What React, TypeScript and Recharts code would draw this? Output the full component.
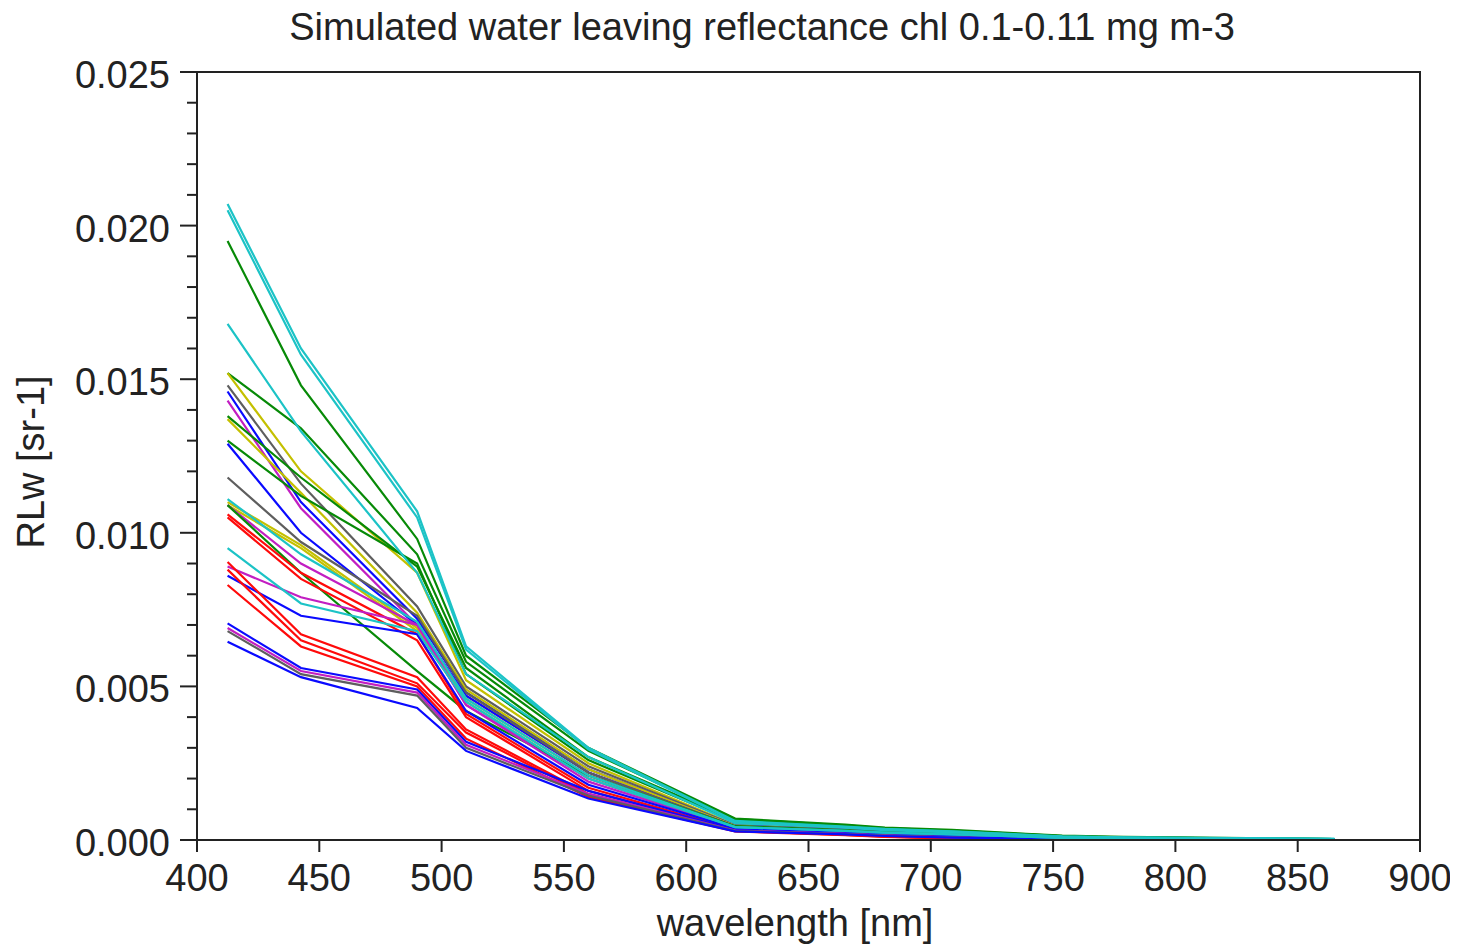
import React from "react";
import { LineChart, Line, XAxis, YAxis, ReferenceArea } from "recharts";

// --- Data ---

const WAVELENGTHS = [412.5, 442.5, 490, 510, 560, 620, 665, 681.25, 708.75, 753.75, 778.75, 865];

const X_TICKS = [400, 450, 500, 550, 600, 650, 700, 750, 800, 850, 900];

const Y_TICKS = [
  0, 0.001, 0.002, 0.003, 0.004, 0.005, 0.006, 0.007, 0.008, 0.009, 0.01, 0.011, 0.012,
  0.013, 0.014, 0.015, 0.016, 0.017, 0.018, 0.019, 0.02, 0.021, 0.022, 0.023, 0.024, 0.025,
];

const CYAN = "#1cc3c6";
const GREEN = "#078a07";
const YELLOW = "#c4c000";
const GRAY = "#5e5e5e";
const BLUE = "#0a0aff";
const MAGENTA = "#c21ec2";
const RED = "#ff0a0a";

const LINE_COLORS = [
  CYAN, CYAN, GREEN, CYAN, GREEN, YELLOW, GRAY, BLUE, MAGENTA, GREEN, YELLOW, GREEN, BLUE,
  GRAY, CYAN, YELLOW, YELLOW, MAGENTA, GREEN, RED, RED, CYAN, MAGENTA, BLUE, RED, RED, RED,
  BLUE, MAGENTA, GRAY, BLUE,
];

// one row per simulated spectrum, values at WAVELENGTHS (sr-1)
const RLW = [
  [0.0207, 0.0160, 0.0107, 0.0063, 0.0030, 0.00062, 0.00044, 0.00036, 0.00028, 0.00012, 0.00009, 0.00004],
  [0.0205, 0.0158, 0.0105, 0.0062, 0.00295, 0.00060, 0.00042, 0.00035, 0.00027, 0.00011, 0.00008, 0.000035],
  [0.0195, 0.0148, 0.0098, 0.0060, 0.0030, 0.00070, 0.00050, 0.00040, 0.00033, 0.00014, 0.00010, 0.00003],
  [0.0168, 0.0133, 0.0087, 0.0054, 0.0027, 0.00055, 0.00040, 0.00032, 0.00025, 0.00010, 0.00007, 0.00003],
  [0.0152, 0.0134, 0.0093, 0.0058, 0.0029, 0.00068, 0.00048, 0.00039, 0.00031, 0.00013, 0.00009, 0.00003],
  [0.0152, 0.0120, 0.0087, 0.0052, 0.0025, 0.00050, 0.00035, 0.00028, 0.00020, 0.00008, 0.00006, 0.00002],
  [0.0148, 0.0116, 0.0076, 0.0050, 0.0024, 0.00048, 0.00033, 0.00026, 0.00019, 0.00008, 0.00005, 0.00002],
  [0.0146, 0.0110, 0.0072, 0.0048, 0.0023, 0.00047, 0.00034, 0.00027, 0.00019, 0.00008, 0.00005, 0.00002],
  [0.0143, 0.0108, 0.0070, 0.0047, 0.0022, 0.00044, 0.00031, 0.00025, 0.00018, 0.00007, 0.00005, 0.00002],
  [0.0138, 0.0118, 0.0089, 0.0056, 0.0027, 0.00064, 0.00046, 0.00037, 0.00029, 0.00012, 0.00008, 0.00003],
  [0.0137, 0.0113, 0.0074, 0.0049, 0.0023, 0.00046, 0.00032, 0.00025, 0.00018, 0.00007, 0.00005, 0.00002],
  [0.0130, 0.0112, 0.0090, 0.0054, 0.0026, 0.00060, 0.00043, 0.00035, 0.00027, 0.00011, 0.00008, 0.00003],
  [0.0129, 0.0100, 0.0070, 0.0047, 0.0022, 0.00044, 0.00031, 0.00024, 0.00017, 0.00007, 0.00005, 0.00002],
  [0.0118, 0.0097, 0.0073, 0.0048, 0.0022, 0.00044, 0.00030, 0.00024, 0.00017, 0.00007, 0.00005, 0.00002],
  [0.0111, 0.0093, 0.0071, 0.0046, 0.0021, 0.00042, 0.00030, 0.00024, 0.00018, 0.00007, 0.00005, 0.00002],
  [0.0110, 0.0096, 0.0069, 0.0046, 0.0021, 0.00043, 0.00030, 0.00023, 0.00017, 0.00007, 0.00005, 0.00002],
  [0.0109, 0.0095, 0.0068, 0.0045, 0.0020, 0.00042, 0.00029, 0.00023, 0.00016, 0.00007, 0.00004, 0.00002],
  [0.0109, 0.0090, 0.0070, 0.0044, 0.0020, 0.00040, 0.00028, 0.00022, 0.00015, 0.00006, 0.00004, 0.00002],
  [0.0109, 0.0087, 0.0055, 0.0042, 0.0021, 0.00045, 0.00032, 0.00026, 0.00019, 0.00008, 0.00005, 0.00002],
  [0.0106, 0.0087, 0.0067, 0.0041, 0.0017, 0.00034, 0.00022, 0.00017, 0.00010, 0.00004, 0.00003, 0.00001],
  [0.0105, 0.0085, 0.0065, 0.0040, 0.0016, 0.00033, 0.00021, 0.00016, 0.00009, 0.00004, 0.00003, 0.00001],
  [0.0095, 0.0077, 0.0068, 0.0045, 0.0020, 0.00042, 0.00030, 0.00024, 0.00018, 0.00007, 0.00005, 0.00002],
  [0.0089, 0.0079, 0.0070, 0.0044, 0.0019, 0.00040, 0.00028, 0.00021, 0.00015, 0.00006, 0.00004, 0.00002],
  [0.0086, 0.0073, 0.0067, 0.0042, 0.0018, 0.00038, 0.00027, 0.00020, 0.00014, 0.00006, 0.00004, 0.00001],
  [0.00905, 0.0067, 0.0053, 0.0036, 0.0015, 0.00030, 0.00018, 0.00012, 0.00006, 0.00002, 0.00001, 0.000005],
  [0.0088, 0.0065, 0.0051, 0.0035, 0.00145, 0.00029, 0.00017, 0.00011, 0.00005, 0.00002, 0.00001, 0.000005],
  [0.0083, 0.0063, 0.0050, 0.0033, 0.0014, 0.00028, 0.00016, 0.00010, 0.00005, 0.00002, 0.00001, 0.000005],
  [0.00705, 0.0056, 0.0049, 0.0032, 0.0016, 0.00033, 0.00022, 0.00016, 0.00010, 0.00004, 0.00003, 0.00001],
  [0.0069, 0.0055, 0.0048, 0.0031, 0.0015, 0.00031, 0.00020, 0.00015, 0.00009, 0.00004, 0.00002, 0.00001],
  [0.0068, 0.0054, 0.0047, 0.0030, 0.00145, 0.00030, 0.00019, 0.00014, 0.00009, 0.00003, 0.00002, 0.00001],
  [0.00645, 0.0053, 0.0043, 0.0029, 0.00135, 0.00028, 0.00018, 0.00013, 0.00008, 0.00003, 0.00002, 0.00001],
];

const chartData = WAVELENGTHS.map((wl, i) => {
  const row: Record<string, number> = { wl };
  RLW.forEach((spectrum, j) => {
    row[`s${j}`] = spectrum[i];
  });
  return row;
});

// cyan spectra are painted last so they sit on top, as in the original plot
const drawOrder = RLW.map((_, j) => j).sort(
  (a, b) => Number(LINE_COLORS[a] === CYAN) - Number(LINE_COLORS[b] === CYAN) || a - b
);

const FONT = '"Liberation Sans", Arial, sans-serif';
const INK = "#222";
const FS = 38;

const YTick = ({ x, y, payload }: any) => {
  const major = Math.round(payload.value * 1000) % 5 === 0;
  return (
    <g>
      <line x1={x - (major ? 17 : 10)} x2={x} y1={y} y2={y} stroke={INK} strokeWidth={2} />
      {major && (
        <text x={x - 27} y={y + 3} textAnchor="end" dominantBaseline="central" fontSize={FS} fontFamily={FONT} fill={INK}>
          {payload.value.toFixed(3)}
        </text>
      )}
    </g>
  );
};

const XTick = ({ x, y, payload }: any) => (
  <g>
    <line x1={x} x2={x} y1={y} y2={y + 12} stroke={INK} strokeWidth={2} />
    <text x={x} y={y + 51} textAnchor="middle" fontSize={FS} fontFamily={FONT} fill={INK}>
      {payload.value}
    </text>
  </g>
);

export default function App() {
  return (
    <div style={{ position: "relative", width: 1450, height: 941, background: "#fff" }}>
      <div
        style={{
          position: "absolute",
          left: 754,
          top: 0,
          transform: "translateX(-50%)",
          whiteSpace: "nowrap",
          fontFamily: FONT,
          fontSize: FS,
          lineHeight: "38px",
          color: INK,
        }}
      >
        Simulated water leaving reflectance chl 0.1-0.11 mg m-3
      </div>
      <LineChart width={1450} height={941} data={chartData} margin={{ top: 64, right: 38, left: 69, bottom: 9 }}>
        <ReferenceArea
          x1={400}
          x2={900}
          y1={0}
          y2={0.025}
          fill="none"
          stroke={INK}
          strokeWidth={2}
          ifOverflow="visible"
        />
        <XAxis
          dataKey="wl"
          type="number"
          domain={[400, 900]}
          ticks={X_TICKS}
          interval={0}
          allowDataOverflow
          height={100}
          tickSize={0}
          tickMargin={0}
          tickLine={false}
          axisLine={{ stroke: INK, strokeWidth: 2 }}
          tick={<XTick />}
          label={() => (
            <text x={787} y={928} textAnchor="middle" fontSize={FS} fontFamily={FONT} fill={INK}>
              wavelength [nm]
            </text>
          )}
        />
        <YAxis
          type="number"
          domain={[0, 0.025]}
          ticks={Y_TICKS}
          interval={0}
          allowDataOverflow
          width={120}
          tickSize={0}
          tickMargin={0}
          tickLine={false}
          axisLine={{ stroke: INK, strokeWidth: 2 }}
          tick={<YTick />}
          label={() => (
            <text
              x={23}
              y={454}
              transform="rotate(-90 23 454)"
              textAnchor="middle"
              dominantBaseline="central"
              fontSize={FS}
              fontFamily={FONT}
              fill={INK}
            >
              RLw [sr-1]
            </text>
          )}
        />
        {drawOrder.map((j) => (
          <Line
            key={j}
            dataKey={`s${j}`}
            stroke={LINE_COLORS[j]}
            strokeWidth={2.2}
            dot={false}
            type="linear"
            isAnimationActive={false}
          />
        ))}
      </LineChart>
    </div>
  );
}
